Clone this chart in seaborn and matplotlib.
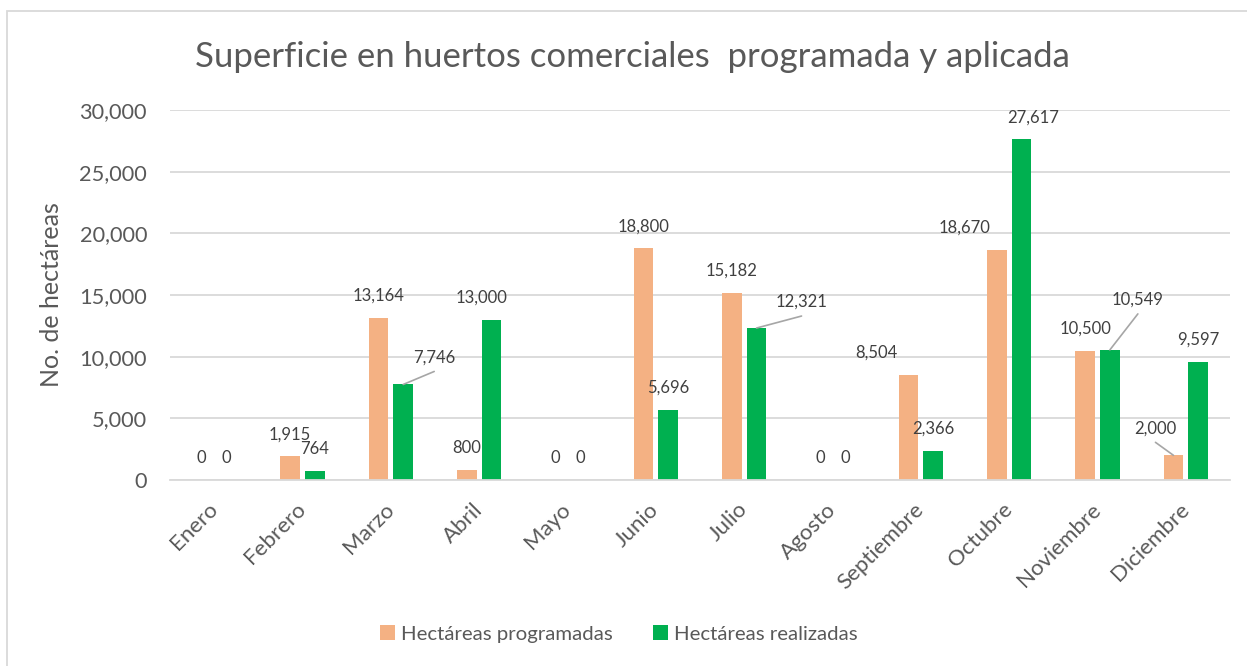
import matplotlib
matplotlib.use("Agg")
import matplotlib.pyplot as plt
import numpy as np
import pandas as pd
import seaborn as sns
from matplotlib.patches import Rectangle

# ---------------- data ----------------
months = ["Enero", "Febrero", "Marzo", "Abril", "Mayo", "Junio", "Julio",
          "Agosto", "Septiembre", "Octubre", "Noviembre", "Diciembre"]
programadas = [0, 1915, 13164, 800, 0, 18800, 15182, 0, 8504, 18670, 10500, 2000]
realizadas = [0, 764, 7746, 13000, 0, 5696, 12321, 0, 2366, 27617, 10549, 9597]
series_names = ["Hectáreas programadas", "Hectáreas realizadas"]
yticks = [0, 5000, 10000, 15000, 20000, 25000, 30000]
title = "Superficie en huertos comerciales  programada y aplicada"
ylabel = "No. de hectáreas"

# ---------------- styles ----------------
colors = ["#F4B183", "#00B050"]
grid_color = "#D9D9D9"
text_color = "#595959"
label_color = "#404040"
# label offsets in pixels (dx, dy, leader line) for specific bars (series, month)
label_offsets = {
    (1, 2): (31, 27, True),
    (1, 3): (-10, 22, False),
    (1, 6): (45, 26, True),
    (0, 8): (-32, 22, False),
    (0, 9): (-32, 22, False),
    (1, 9): (12, 22, False),
    (1, 10): (28, 50, True),
    (0, 11): (-18, 27, True),
}
default_offset = (0, 22, False)

df = pd.DataFrame({
    "Mes": months * 2,
    "Serie": [series_names[0]] * len(months) + [series_names[1]] * len(months),
    "Valor": programadas + realizadas,
})

sns.set_theme(style="white")
plt.rcParams["font.family"] = ["Lato", "DejaVu Sans"]

W, H = 1247, 666
fig = plt.figure(figsize=(W / 100, H / 100), dpi=100)
ax = fig.add_axes([170 / W, 1 - 480 / H, 1060 / W, 370 / H])

sns.barplot(data=df, x="Mes", y="Valor", hue="Serie", palette=colors,
            width=0.56, gap=0.2, saturation=1, linewidth=0, ax=ax)

ax.set_xlim(-0.5, len(months) - 0.5)
ax.set_ylim(0, 30000)
ax.set_yticks(yticks)
ax.set_yticklabels([f"{v:,.0f}" for v in yticks])
ax.yaxis.grid(True, color=grid_color, lw=1.3)
ax.set_axisbelow(True)
for s in ["top", "right", "left"]:
    ax.spines[s].set_visible(False)
ax.spines["bottom"].set_color(grid_color)
ax.spines["bottom"].set_linewidth(1.3)
ax.tick_params(axis="y", length=0, colors=text_color, labelsize=15.7, pad=16.5)
ax.tick_params(axis="x", length=0, colors=text_color, labelsize=16, pad=19)
for lab in ax.get_xticklabels():
    lab.set_rotation(45)
    lab.set_ha("right")
    lab.set_va("center")
    lab.set_rotation_mode("anchor")
ax.set_xlabel("")
ax.set_ylabel(ylabel, fontsize=18, color=text_color, labelpad=12)

# data labels
for si, cont in enumerate(ax.containers):
    for mi, bar in enumerate(cont):
        h = bar.get_height()
        x = bar.get_x() + bar.get_width() / 2
        dx, dy, leader = label_offsets.get((si, mi), default_offset)
        ax.annotate(f"{h:,.0f}", xy=(x, h), xytext=(dx, dy),
                    textcoords="offset pixels", ha="center", va="center",
                    fontsize=12, color=label_color, annotation_clip=False)
        if leader:
            ax.annotate("", xy=(x, h), xytext=(dx, dy - 14),
                        textcoords="offset pixels",
                        arrowprops=dict(arrowstyle="-", color="#A6A6A6", lw=1.2,
                                        shrinkA=0, shrinkB=0))

# legend
handles, labels = ax.get_legend_handles_labels()
if ax.get_legend() is not None:
    ax.get_legend().remove()
fig.legend(handles, labels, loc="center", bbox_to_anchor=(619 / W, 1 - 634 / H),
           ncol=2, frameon=False, fontsize=14.7, handlelength=0.7, handleheight=0.7,
           handletextpad=0.3, columnspacing=2.0, labelcolor=text_color)

# title
fig.text(632 / W, 1 - 57 / H, title, ha="center", va="center",
         fontsize=25, color=text_color)

# chart border
fig.add_artist(Rectangle((7 / W, -0.1), 1.2, (1 - 11 / H) + 0.1,
                         transform=fig.transFigure, fill=False,
                         edgecolor=grid_color, lw=1.3))

fig.savefig("out.png", dpi=100, facecolor="white")
